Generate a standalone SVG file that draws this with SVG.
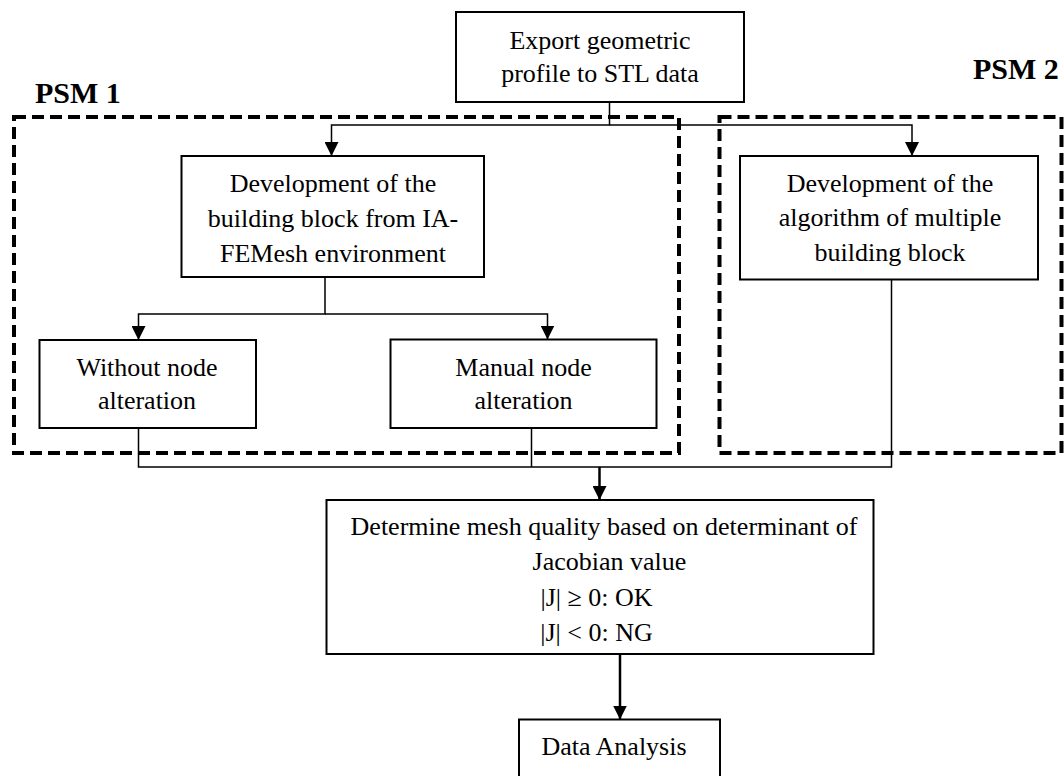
<svg xmlns="http://www.w3.org/2000/svg" width="1064" height="776" viewBox="0 0 1064 776">
<defs>
<style>
.box{fill:#fff;stroke:#000;stroke-width:2}
.grp{fill:none;stroke:#000;stroke-width:4;stroke-dasharray:12 6}
.t{font-family:"Liberation Serif","Times New Roman",serif;font-size:26px;fill:#000;text-anchor:middle}
.lbl{font-family:"Liberation Serif","Times New Roman",serif;font-size:30px;font-weight:bold;fill:#000}
.ln{fill:none;stroke:#000;stroke-width:1.5}
.lnb{fill:none;stroke:#000;stroke-width:2.5}
</style>
<marker id="ah" markerUnits="userSpaceOnUse" markerWidth="14" markerHeight="14" refX="14" refY="7" orient="auto" viewBox="0 0 14 14">
<path d="M0,0 L14,7 L0,14 z" fill="#000"/>
</marker>
</defs>
<rect width="1064" height="776" fill="#fff"/>

<g id="psm1">
<rect class="grp" x="14" y="117" width="665" height="336"/>
<text class="lbl" x="35" y="103">PSM 1</text>
</g>
<g id="psm2">
<rect class="grp" x="719.5" y="117" width="342" height="336"/>
<text class="lbl" x="973" y="79">PSM 2</text>
</g>

<g id="connectors">
<polyline class="ln" points="609.5,102 609.5,125 331.5,125 331.5,156" marker-end="url(#ah)"/>
<polyline class="ln" points="609.5,125 912,125 912,156" marker-end="url(#ah)"/>
<polyline class="ln" points="325,277 325,314 138.5,314 138.5,340" marker-end="url(#ah)"/>
<polyline class="ln" points="325,314 547.5,314 547.5,339.5" marker-end="url(#ah)"/>
<polyline class="ln" points="138.5,428 138.5,467 891.5,467 891.5,279.5"/>
<line class="ln" x1="531.5" y1="428" x2="531.5" y2="467"/>
<line class="lnb" x1="599.5" y1="467" x2="599.5" y2="500" marker-end="url(#ah)"/>
<line class="lnb" x1="620" y1="654" x2="620" y2="719.5" marker-end="url(#ah)"/>
</g>

<g id="export">
<rect class="box" x="456" y="12" width="288" height="90"/>
<text class="t" x="600" y="48.5">Export geometric</text>
<text class="t" x="600" y="82">profile to STL data</text>
</g>

<g id="buildingblock">
<rect class="box" x="181.5" y="156" width="302.5" height="121"/>
<text class="t" x="333" y="191.5">Development of the</text>
<text class="t" x="333" y="226.5">building block from IA-</text>
<text class="t" x="333" y="261.5">FEMesh environment</text>
</g>

<g id="algorithm">
<rect class="box" x="740" y="156" width="298" height="123.5"/>
<text class="t" x="890" y="191.5">Development of the</text>
<text class="t" x="890" y="226">algorithm of multiple</text>
<text class="t" x="890" y="260.5">building block</text>
</g>

<g id="without">
<rect class="box" x="39.5" y="340" width="216.5" height="88"/>
<text class="t" x="147" y="375.5">Without node</text>
<text class="t" x="147" y="408.5">alteration</text>
</g>

<g id="manual">
<rect class="box" x="390.5" y="339.5" width="266" height="88.5"/>
<text class="t" x="523.5" y="375.5">Manual node</text>
<text class="t" x="523.5" y="408.5">alteration</text>
</g>

<g id="determine">
<rect class="box" x="326.5" y="500" width="547" height="154"/>
<text class="t" x="604" y="535">Determine mesh quality based on determinant of</text>
<text class="t" x="609.5" y="570">Jacobian value</text>
<text class="t" x="596.5" y="606">|J| ≥ 0: OK</text>
<text class="t" x="596.5" y="641">|J| &lt; 0: NG</text>
</g>

<g id="analysis">
<rect class="box" x="519" y="719.5" width="201" height="70"/>
<text class="t" x="614" y="755">Data Analysis</text>
</g>
</svg>
